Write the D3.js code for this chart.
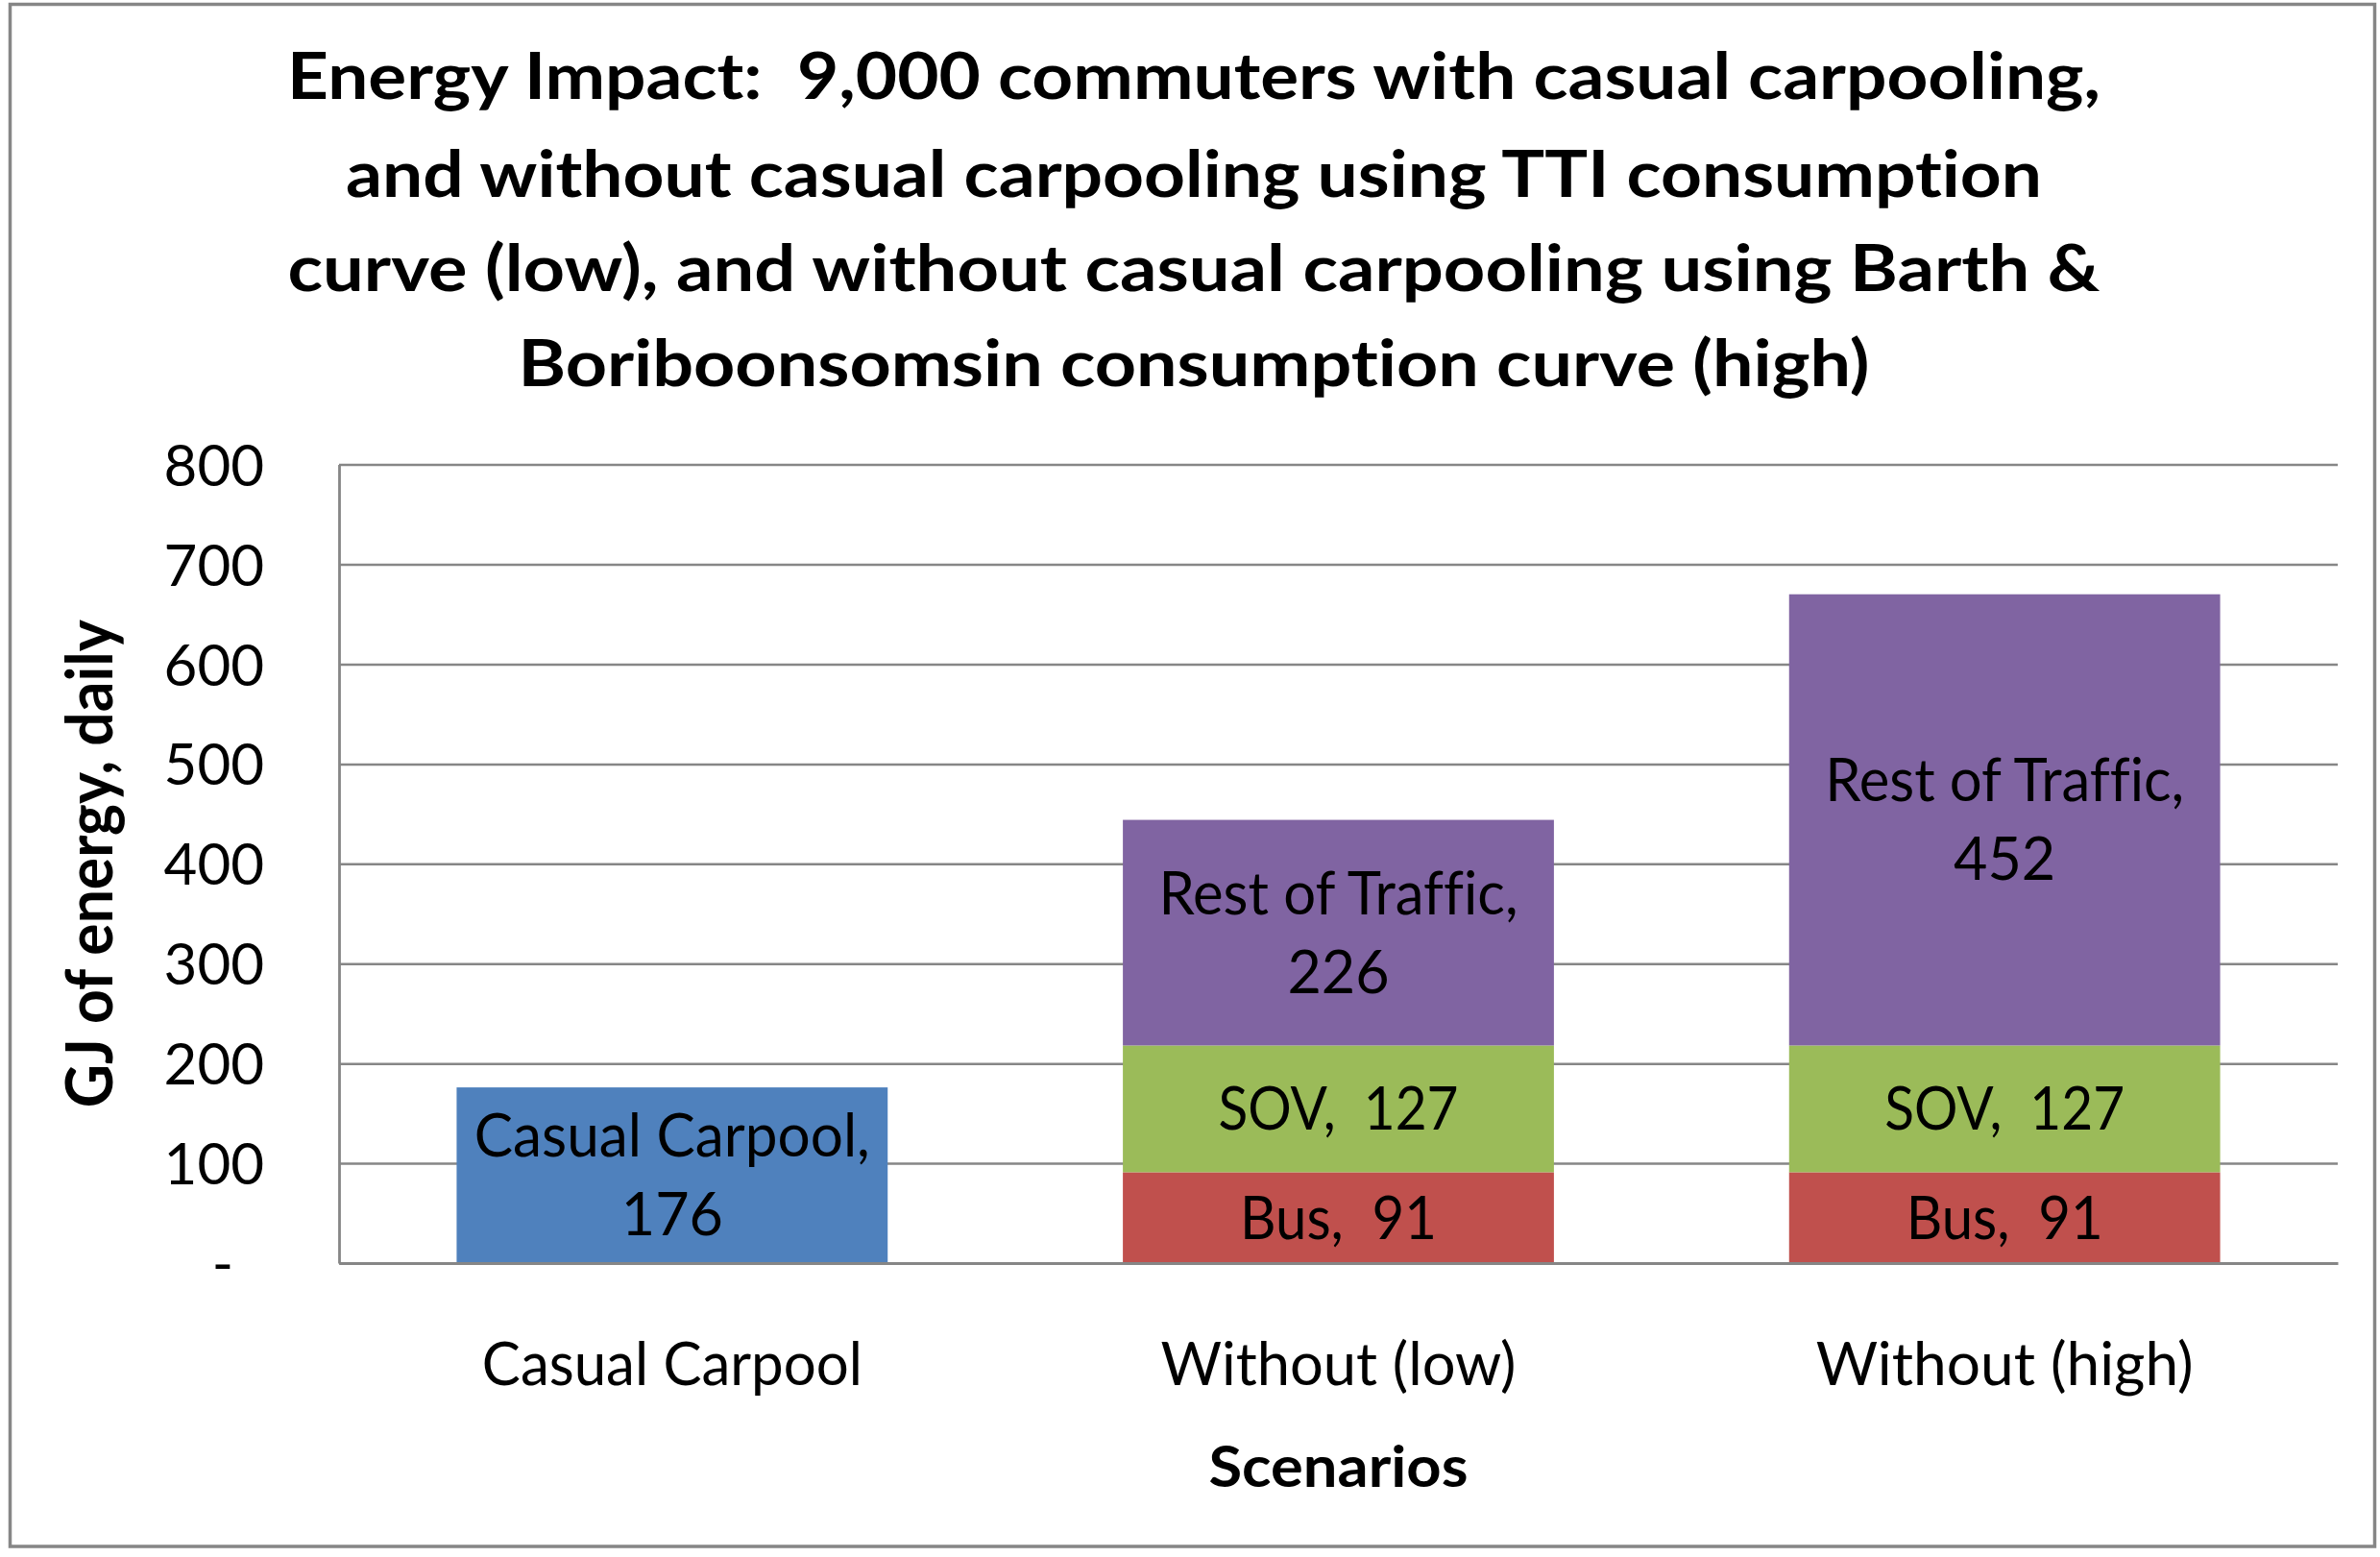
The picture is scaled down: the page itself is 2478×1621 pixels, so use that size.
<!DOCTYPE html>
<html>
<head>
<meta charset="utf-8">
<script src="https://cdn.jsdelivr.net/npm/d3@7"></script>
<style>
  html, body { margin: 0; padding: 0; background: #ffffff; }
  svg { display: block; }
  text { white-space: pre; font-family: Lato, "Open Sans", sans-serif; fill: #000;
         font-variant-ligatures: none; font-feature-settings: "liga" 0, "clig" 0, "dlig" 0; }
</style>
</head>
<body>
<svg id="chart" width="2478" height="1621"></svg>
<script>
// ---------------- data ----------------
const categories = ["Casual Carpool", "Without (low)", "Without (high)"];
const seriesNames = ["Casual Carpool", "Bus", "SOV", "Rest of Traffic"];
const casualCarpoolValues = [176, 0, 0];
const busValues = [0, 91, 91];
const sovValues = [0, 127, 127];
const restOfTrafficValues = [0, 226, 452];
const yTickValues = [0, 100, 200, 300, 400, 500, 600, 700, 800];
const titleLines = [
  "Energy Impact:  9,000 commuters with casual carpooling,",
  "and without casual carpooling using TTI consumption",
  "curve (low), and without casual carpooling using Barth &",
  "Boriboonsomsin consumption curve (high)"
];
const yAxisTitle = "GJ of energy, daily";
const xAxisTitle = "Scenarios";

// ---------------- styling ----------------
const W = 2478, H = 1621;
const plot = { left: 353, right: 2434, top: 483.6, bottom: 1315 };
const colors = {
  "Casual Carpool": "#4F81BD",
  "Bus": "#C0504D",
  "SOV": "#9BBB59",
  "Rest of Traffic": "#8064A2"
};
const gray = "#868686";
const labelFont = 61;
const capRatio = 0.7165;
// target rendered widths (to mimic the narrow original face)
const fitWidth = {
  "Casual Carpool,": 412, "Rest of Traffic,": 374, "SOV,  127": 250, "Bus,  91": 205,
  "Casual Carpool": 396, "Without (low)": 370, "Without (high)": 393,
  "Scenarios": 270, "GJ of energy, daily": 508
};
const titleWidths = [1888, 1766, 1887, 1407];

function fit(sel) {
  sel.each(function() {
    const t = d3.select(this).text();
    if (fitWidth[t]) d3.select(this).attr("textLength", fitWidth[t]).attr("lengthAdjust", "spacingAndGlyphs");
  });
}

// ---------------- build table ----------------
const seriesValues = {
  "Casual Carpool": casualCarpoolValues,
  "Bus": busValues,
  "SOV": sovValues,
  "Rest of Traffic": restOfTrafficValues
};
const table = categories.map((c, i) => {
  const row = { category: c };
  seriesNames.forEach(s => row[s] = seriesValues[s][i]);
  return row;
});
const stacked = d3.stack().keys(seriesNames)(table);

// ---------------- scales ----------------
const x = d3.scaleBand().domain(categories)
  .range([plot.left, plot.right]).paddingInner(0.353).paddingOuter(0.1765);
const y = d3.scaleLinear().domain([0, 800]).range([plot.bottom, plot.top]);

const svg = d3.select("#chart");

// chart border
svg.append("rect")
  .attr("x", 10.5).attr("y", 4.5).attr("width", 2462).attr("height", 1605.5)
  .attr("fill", "#fff").attr("stroke", gray).attr("stroke-width", 3.5);

// title
const title = svg.append("text")
  .attr("text-anchor", "middle")
  .attr("font-weight", 700)
  .attr("font-size", 67);
const titleBaselines = [103, 205, 303, 402];
titleLines.forEach((line, i) => {
  title.append("tspan")
    .attr("x", 1243).attr("y", titleBaselines[i])
    .attr("textLength", titleWidths[i]).attr("lengthAdjust", "spacingAndGlyphs")
    .text(line);
});

// y axis with gridlines
const yAxis = d3.axisLeft(y)
  .tickValues(yTickValues)
  .tickSize(-(plot.right - plot.left))
  .tickSizeOuter(0)
  .tickPadding(78)
  .tickFormat(d => d === 0 ? "-" : d3.format("d")(d));
const gy = svg.append("g").attr("transform", `translate(${plot.left},0)`).call(yAxis);
gy.selectAll(".tick line").attr("stroke", gray).attr("stroke-width", 2.5);
gy.select(".domain").attr("stroke", gray).attr("stroke-width", 2.8);
gy.selectAll(".tick text")
  .attr("font-family", "Lato, 'Open Sans', sans-serif")
  .attr("font-size", 60)
  .attr("fill", "#000")
  .attr("dy", "0.36em")
  .attr("dx", d => d === 0 ? -32 : 0);

// bars
const layers = svg.append("g").selectAll("g")
  .data(stacked).join("g")
  .attr("fill", d => colors[d.key]);
layers.selectAll("rect")
  .data(d => d.filter(s => s[1] - s[0] > 0))
  .join("rect")
  .attr("x", d => x(d.data.category))
  .attr("width", x.bandwidth())
  .attr("y", d => y(d[1]))
  .attr("height", d => y(d[0]) - y(d[1]));

// x axis (line over bars)
const xAxis = d3.axisBottom(x).tickSize(0).tickSizeOuter(0);
const gx = svg.append("g").attr("transform", `translate(0,${plot.bottom})`).call(xAxis);
gx.select(".domain").attr("stroke", gray).attr("stroke-width", 2.8);
gx.selectAll(".tick text")
  .attr("font-family", "Lato, 'Open Sans', sans-serif")
  .attr("font-size", labelFont)
  .attr("fill", "#000")
  .attr("y", 127).attr("dy", 0)
  .call(fit);

// data labels
const labelG = svg.append("g").attr("text-anchor", "middle").attr("font-size", labelFont);
stacked.forEach(layer => {
  layer.forEach(seg => {
    const v = seg[1] - seg[0];
    if (v <= 0) return;
    const cx = x(seg.data.category) + x.bandwidth() / 2;
    const cy = (y(seg[0]) + y(seg[1])) / 2;
    const half = capRatio * labelFont / 2;
    const oneLine = `${layer.key},  ${v}`;
    const t = labelG.append("text").attr("x", cx).attr("y", cy + half).text(oneLine);
    if (t.node().getComputedTextLength() > x.bandwidth() * 0.95) {
      t.remove();
      labelG.append("text").attr("x", cx).attr("y", cy - 41 + half).text(`${layer.key},`).call(fit);
      labelG.append("text").attr("x", cx).attr("y", cy + 41 + half).text(`${v}`);
    } else {
      t.call(fit);
    }
  });
});

// axis titles
svg.append("text")
  .attr("text-anchor", "middle")
  .attr("font-weight", 700)
  .attr("font-size", 60)
  .attr("x", (plot.left + plot.right) / 2)
  .attr("y", 1548)
  .text(xAxisTitle)
  .call(fit);

svg.append("text")
  .attr("text-anchor", "middle")
  .attr("font-weight", 700)
  .attr("font-size", 66)
  .attr("transform", `translate(117,${(plot.top + plot.bottom) / 2}) rotate(-90)`)
  .text(yAxisTitle)
  .call(fit);
</script>
</body>
</html>
